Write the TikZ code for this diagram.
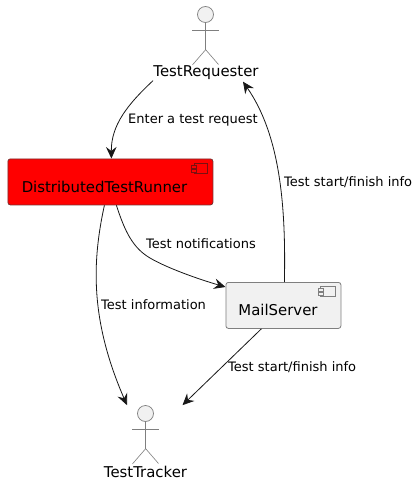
\documentclass[tikz,border=0pt]{standalone}
\usepackage{fontspec}
\setmainfont{DejaVu Sans}
\usetikzlibrary{arrows.meta}
\definecolor{umlfill}{HTML}{F1F1F1}
\definecolor{umlline}{HTML}{7F7F7F}
\definecolor{edgeline}{HTML}{181818}
\definecolor{runnerline}{HTML}{7A1010}
\tikzset{
  x=1pt,y=-1pt,
  namelabel/.style={inner sep=0pt,font=\fontsize{14.9}{16}\selectfont,text=black},
  edgelabel/.style={inner sep=0pt,font=\fontsize{13}{15}\selectfont,text=black,anchor=west},
  compbox/.style={draw=umlline,line width=0.8pt,rounded corners=2.5pt,anchor=north west,inner sep=0pt},
  actorpart/.style={draw=umlline,line width=0.6pt},
  actorhead/.style={circle,draw=umlline,line width=0.7pt,fill=umlfill,inner sep=0pt,minimum size=16pt},
  flow/.style={draw=edgeline,line width=0.8pt,-{Stealth[length=11.5pt,width=10.5pt,inset=4pt]}},
}
\begin{document}
\begin{tikzpicture}
\useasboundingbox (0,0) rectangle (418,484);
\fill[white] (0,0) rectangle (418,484);
% actors
\node[actorhead] (reqhead) at (205.5,14.5) {};
\draw[actorpart] (reqhead.south) -- ++(0,27) -- ++(-13,15);
\draw[actorpart] (205.5,49.5) -- ++(13,15);
\draw[actorpart] (192,30) -- (219,30);
\node[namelabel] (req) at (206,72.5) {TestRequester};
\node[actorhead] (trackhead) at (145.5,413.5) {};
\draw[actorpart] (trackhead.south) -- ++(0,27) -- ++(-13,15);
\draw[actorpart] (145.5,448.5) -- ++(13,15);
\draw[actorpart] (132,429) -- (159,429);
\node[namelabel] (track) at (145.5,472) {TestTracker};
% components
\node[compbox,fill=red,draw=runnerline!70!umlline,minimum width=205pt,minimum height=46pt] (runner) at (7.5,158.5) {};
\node[namelabel] at (104.5,187) {DistributedTestRunner};
\draw[draw=runnerline,line width=0.5pt] (194.5,163.5) rectangle (207.5,173.5);
\draw[draw=runnerline,fill=red,line width=0.5pt] (191,165.5) rectangle (196.5,168.5);
\draw[draw=runnerline,fill=red,line width=0.5pt] (191,169.5) rectangle (196.5,172.5);
\node[compbox,fill=umlfill,minimum width=115pt,minimum height=46pt] (mail) at (225.5,282) {};
\node[namelabel] at (278,309.5) {MailServer};
\draw[draw=umlline,line width=0.5pt] (320,286) rectangle (335.5,296.5);
\draw[draw=umlline,fill=umlfill,line width=0.5pt] (318,288) rectangle (323,291);
\draw[draw=umlline,fill=umlfill,line width=0.5pt] (318,292.5) rectangle (323,295.5);
% connectors
\draw[flow] ([xshift=-53pt,yshift=-1pt]req.south) .. controls (128,104) and (111,125) .. ([xshift=1pt]runner.north);
\draw[flow] ([xshift=-6pt]runner.south) .. controls (92,262) and (90,320) .. ([xshift=-18.5pt]trackhead.north);
\draw[flow] ([xshift=6pt]runner.south) .. controls (125,232) and (133,248) .. (150,258) .. controls (167,268) and (198,279) .. ([yshift=-5pt]mail.north west);
\draw[flow] ([xshift=1pt]mail.north) .. controls (286,205) and (280,135) .. ([xshift=37pt,yshift=-2pt]req.south);
\draw[flow] ([xshift=-22pt]mail.south) -- ([xshift=37pt]trackhead.north);
% labels
\node[edgelabel] at (128,120.5) {Enter a test request};
\node[edgelabel] at (284,182) {Test start/finish info};
\node[edgelabel] at (146,244) {Test notifications};
\node[edgelabel] at (101,304.5) {Test information};
\node[edgelabel] at (228,367) {Test start/finish info};
\end{tikzpicture}
\end{document}
